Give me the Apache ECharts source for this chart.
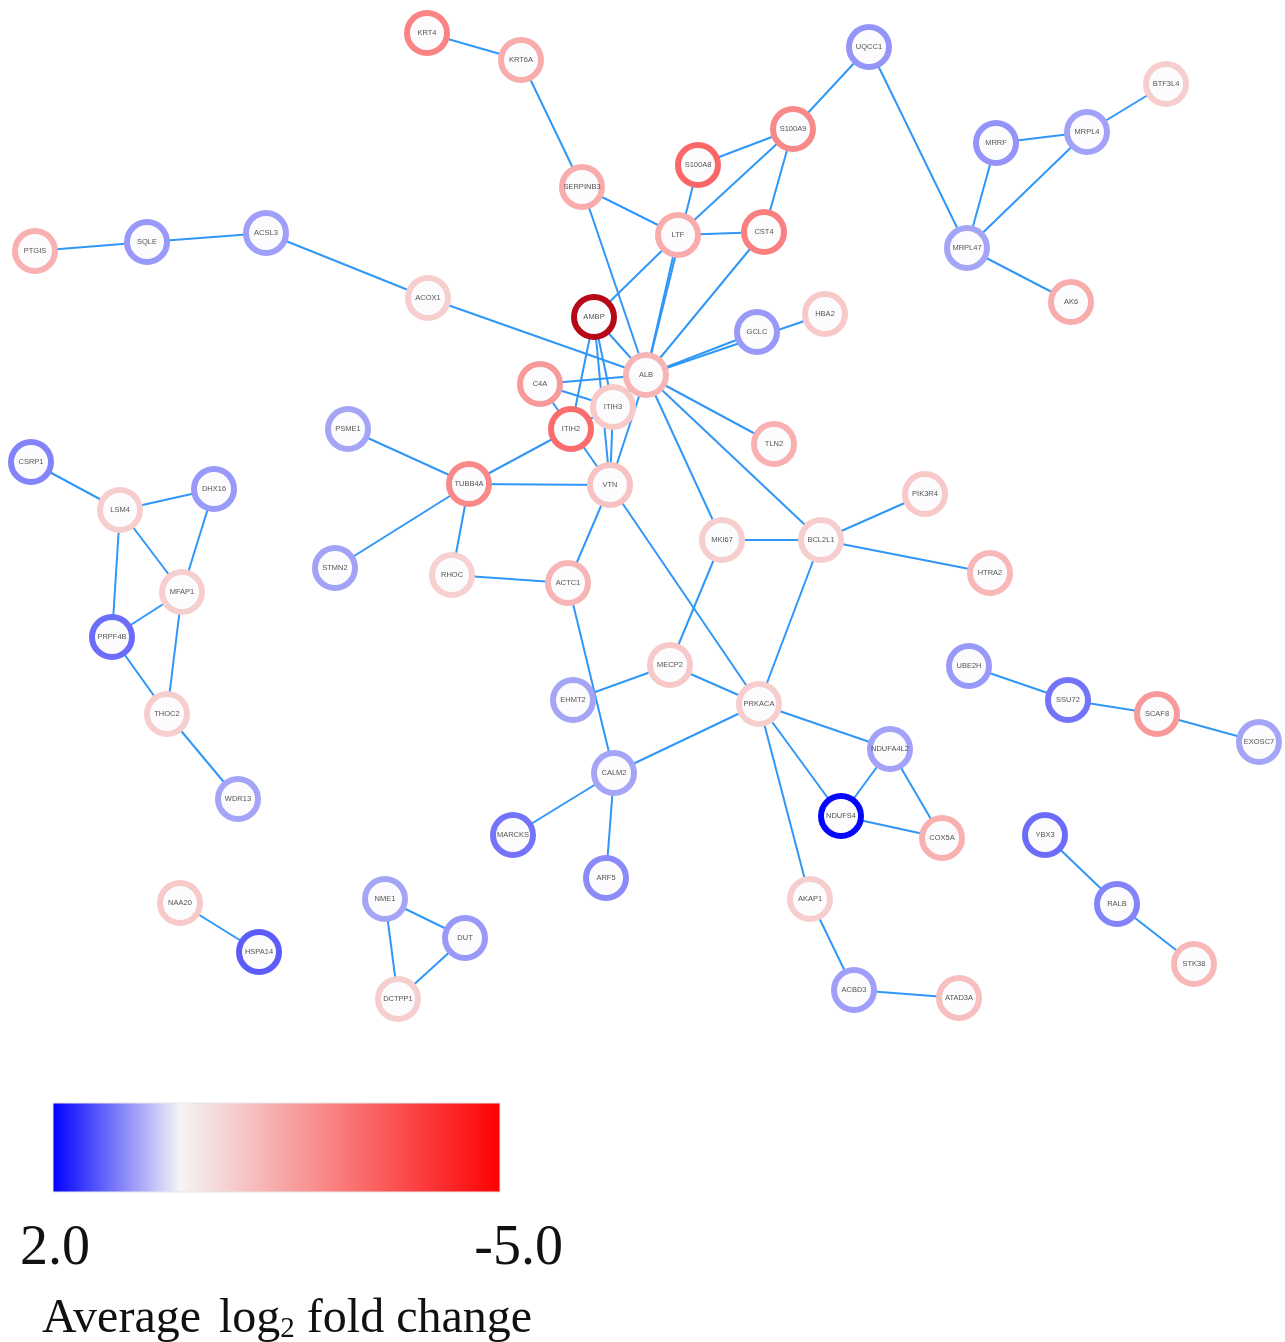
<!DOCTYPE html>
<html>
<head>
<meta charset="utf-8">
<script src="https://cdn.jsdelivr.net/npm/echarts@6/dist/echarts.min.js"></script>
<style>
html,body{margin:0;padding:0;background:#fff;}
#chart{width:1285px;height:1342px;}
</style>
</head>
<body>
<div id="chart"></div>
<script>
// ---- Data ----
const nodeNames = ['KRT4','KRT6A','SERPINB3','S100A8','S100A9','LTF','CST4','UQCC1','BTF3L4','MRRF','MRPL4','MRPL47','AK6',
  'PTGIS','SQLE','ACSL3','ACOX1','AMBP','HBA2','GCLC','ALB','C4A','ITIH3','ITIH2','TLN2','PSME1','CSRP1','DHX16','LSM4',
  'TUBB4A','VTN','PIK3R4','MKI67','BCL2L1','STMN2','RHOC','ACTC1','HTRA2','MFAP1','PRPF4B','MECP2','UBE2H','SSU72','SCAF8',
  'EHMT2','PRKACA','THOC2','EXOSC7','NDUFA4L2','CALM2','WDR13','NDUFS4','COX5A','MARCKS','YBX3','ARF5','AKAP1','NAA20',
  'NME1','RALB','DUT','HSPA14','STK38','ACBD3','DCTPP1','ATAD3A'];
// layout coordinates of each node (network layout, in picture units)
const nodeX = [427,521,582,698,793,678,764,869,1166,996,1087,967,1071,
  35,147,266,428,594,825,757,646,540,613,571,774,348,31,214,120,
  469,610,925,722,821,335,452,568,990,182,112,670,969,1068,1157,
  573,759,167,1259,890,614,238,841,942,513,1045,606,810,180,
  385,1117,465,259,1194,854,398,959];
const nodeY = [33,60,187,165,129,235,232,47,84,143,132,248,302,
  251,242,233,298,317,314,332,375,384,407,429,444,429,462,489,510,
  484,485,494,540,540,568,575,583,573,592,637,665,666,700,714,
  700,704,714,742,749,773,799,816,838,835,835,878,899,903,
  899,904,938,952,964,990,999,998];
// average log2 fold change per node
const nodeLFC = [-2.3,-1.5,-1.5,-2.9,-2.2,-1.5,-2.4,0.78,-0.8,0.8,0.68,0.65,-1.5,
  -1.4,0.75,0.7,-0.8,-6.4,-0.9,0.75,-1.3,-1.85,-0.9,-2.8,-1.4,0.65,0.93,0.75,-0.8,
  -2.2,-1.05,-0.9,-0.8,-0.8,0.68,-0.75,-1.3,-1.25,-0.8,1.12,-0.9,0.75,1.05,-1.85,
  0.65,-0.8,-0.8,0.65,0.68,0.65,0.65,1.95,-1.4,1.05,1.12,0.87,-0.8,-0.9,
  0.65,0.93,0.75,1.25,-1.25,0.7,-0.8,-1.1];
const edgeList = [
  ['KRT4','KRT6A'],['KRT6A','SERPINB3'],['SERPINB3','LTF'],['SERPINB3','ALB'],
  ['S100A8','S100A9'],['S100A8','ALB'],['S100A9','LTF'],['LTF','AMBP'],['S100A9','CST4'],['S100A9','UQCC1'],
  ['LTF','CST4'],['LTF','ALB'],['CST4','ALB'],
  ['UQCC1','MRPL47'],['MRRF','MRPL4'],['MRRF','MRPL47'],['MRPL4','MRPL47'],['MRPL4','BTF3L4'],['MRPL47','AK6'],
  ['PTGIS','SQLE'],['SQLE','ACSL3'],['ACSL3','ACOX1'],['ACOX1','ALB'],
  ['AMBP','ALB'],['AMBP','ITIH2'],['AMBP','ITIH3'],['AMBP','VTN'],
  ['GCLC','ALB'],['HBA2','ALB'],
  ['ALB','C4A'],['ALB','ITIH3'],['ALB','VTN'],['ALB','TLN2'],['ALB','MKI67'],['ALB','BCL2L1'],
  ['C4A','ITIH3'],['C4A','ITIH2'],['ITIH2','ITIH3'],['ITIH2','VTN'],['ITIH3','VTN'],
  ['ITIH2','TUBB4A'],['TUBB4A','VTN'],['TUBB4A','PSME1'],['TUBB4A','STMN2'],['TUBB4A','RHOC'],
  ['RHOC','ACTC1'],['VTN','ACTC1'],['VTN','PRKACA'],['ACTC1','CALM2'],
  ['MKI67','BCL2L1'],['MKI67','MECP2'],['BCL2L1','PIK3R4'],['BCL2L1','HTRA2'],['BCL2L1','PRKACA'],
  ['MECP2','PRKACA'],['MECP2','EHMT2'],['PRKACA','CALM2'],['PRKACA','NDUFA4L2'],['PRKACA','NDUFS4'],['PRKACA','AKAP1'],
  ['CALM2','MARCKS'],['CALM2','ARF5'],['NDUFA4L2','NDUFS4'],['NDUFA4L2','COX5A'],['NDUFS4','COX5A'],
  ['AKAP1','ACBD3'],['ACBD3','ATAD3A'],
  ['UBE2H','SSU72'],['SSU72','SCAF8'],['SCAF8','EXOSC7'],
  ['YBX3','RALB'],['RALB','STK38'],
  ['NAA20','HSPA14'],
  ['NME1','DUT'],['NME1','DCTPP1'],['DUT','DCTPP1'],
  ['CSRP1','LSM4'],['LSM4','DHX16'],['LSM4','MFAP1'],['LSM4','PRPF4B'],['DHX16','MFAP1'],
  ['MFAP1','PRPF4B'],['MFAP1','THOC2'],['PRPF4B','THOC2'],['THOC2','WDR13']
];
const scaleMax = 2.0, scaleMin = -5.0;
const scaleLabels = ['2.0','-5.0'];
const scaleTitle = ['Average','log','2','fold change'];

// ---- colour scale: blue (+2) -> white (0) -> red (-5), darker beyond -5 ----
const BLUE=[0,0,255], WHITE=[245,245,245], RED=[255,0,0], DARK=[150,12,32];
function mix(a,b,t){return a.map((v,i)=>Math.round(v+(b[i]-v)*t));}
function lfcColor(v){
  let c;
  if (v >= 0) c = mix(WHITE, BLUE, Math.min(v/scaleMax,1));
  else if (v >= scaleMin) c = mix(WHITE, RED, v/scaleMin);
  else c = mix(RED, DARK, Math.min((scaleMin - v)/2,1));
  return 'rgb('+c.join(',')+')';
}
const whiteStop = scaleMax/(scaleMax-scaleMin);

const nodes = nodeNames.map((n,i)=>({
  name:n, value:[nodeX[i], nodeY[i]],
  itemStyle:{borderColor: lfcColor(nodeLFC[i])}
}));
const links = edgeList.map(e=>({source:e[0], target:e[1]}));

const SERIF = '"Liberation Serif","Times New Roman",serif';
const chart = echarts.init(document.getElementById('chart'), null, {renderer:'canvas'});
chart.setOption({
  animation:false,
  backgroundColor:'#ffffff',
  grid:{left:0,right:0,top:0,bottom:0},
  xAxis:{type:'value',min:0,max:1285,show:false},
  yAxis:{type:'value',min:0,max:1342,inverse:true,show:false},
  series:[{
    type:'graph',
    coordinateSystem:'cartesian2d',
    layout:'none',
    symbol:'circle',
    symbolSize:40,
    data:nodes,
    links:links,
    itemStyle:{color:'#fcfcfe', borderWidth:6},
    lineStyle:{color:'#3097f7', width:2, opacity:1, curveness:0},
    label:{show:true, position:'inside', fontSize:7.5, color:'#555',
      fontFamily:'"Liberation Sans", Arial, sans-serif'},
    emphasis:{disabled:true},
    silent:true,
    z:2
  }],
  graphic:[
    {type:'rect', shape:{x:53,y:1103,width:447,height:89},
     style:{fill:new echarts.graphic.LinearGradient(0,0,1,0,[
        {offset:0,color:'rgb(0,0,255)'},
        {offset:whiteStop,color:'rgb(245,245,245)'},
        {offset:1,color:'rgb(255,0,0)'}]),
       stroke:'#e6e6e6', lineWidth:1}},
    {type:'text', x:20, y:1249, style:{text:scaleLabels[0], fontSize:56,
       fontFamily:SERIF, fill:'#111', textAlign:'left', textVerticalAlign:'middle'}},
    {type:'text', x:563, y:1249, style:{text:scaleLabels[1], fontSize:56,
       fontFamily:SERIF, fill:'#111', textAlign:'right', textVerticalAlign:'middle'}},
    {type:'text', x:42, y:1294, style:{
       text:'{a|'+scaleTitle[0]+'}{g| }{a|'+scaleTitle[1]+'}{s|'+scaleTitle[2]+'}{a| '+scaleTitle[3]+'}',
       fontFamily:SERIF, fill:'#111', textAlign:'left', textVerticalAlign:'top',
       rich:{
         a:{fontSize:48, lineHeight:50, verticalAlign:'middle', fill:'#111', fontFamily:SERIF},
         g:{fontSize:48, lineHeight:50, verticalAlign:'middle', fill:'#111', fontFamily:SERIF, padding:[0,6,0,0]},
         s:{fontSize:29, lineHeight:20, verticalAlign:'bottom', fill:'#111', fontFamily:SERIF}
       }}}
  ]
});
</script>
</body>
</html>
